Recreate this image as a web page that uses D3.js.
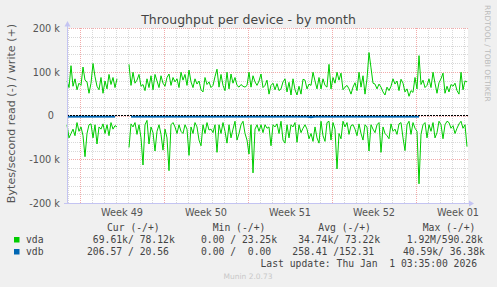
<!DOCTYPE html>
<html>
<head>
<meta charset="utf-8">
<script src="https://cdn.jsdelivr.net/npm/d3@7"></script>
<style>
  body { margin: 0; background: #f0f0f0; }
  svg { display: block; }
</style>
</head>
<body>
<div id="viz-container"></div>
<script>
//vda throughput in k bytes/second, one sample every 4 hours, null = no data
let vdaWrite = [80, 65, 115, 68, 85, 60, 75, 70, 112, 82, 78, 52, 75, 120, 90, 68, 60, 88, 52, 80, 62, 95, 72, 88, 65, 85,
    null, null, null, null, null,
    118, 70, 100, 75, 82, 95, 68, 72, 58, 85, 65, 92, 60, 95, 80, 65, 92, 75, 68, 88,
    96, 70, 88, 78, 85, 65, 100, 82, 95, 70, 105, 78, 65, 85, 73, 80, 60, 55, 88, 72, 78, 65, 70, 90, 107,
    66, 95, 70, 58, 100, 62, 96, 75, 88, 70, 66, 72, 68, 66, 70, 100, 66, 92, 78, 70, 80, 96, 65, 70, 82,
    50, 70, 75, 60, 74, 58, 62, 78, 85, 55, 77, 48, 85, 60, 48, 68, 50, 84, 82, 62, 73, 70, 100, 80, 62,
    88, 62, 85, 70, 66, 118, 62, 88, 75, 100, 82, 98, 60, 66, 70, 62, 50, 66, 76, 58, 100, 66, 92, 50, 85,
    145, 110, 75, 73, 62, 73, 66, 55, 48, 66, 58, 68, 85, 73, 80, 58, 84, 75, 55, 62, 45, 58, 54, 88, 62,
    138, 72, 82, 65, 70, 85, 65, 100, 75, 52, 76, 85, 98, 52, 68, 55, 72, 68, 75, 58, 50, 100, 60, 80, 78];

let vdaRead = [20, 50, 40, 30, 45, 15, 35, 25, 45, 93, 40, 20, 18, 50, 20, 64, 25, 30, 18, 40, 20, 45, 15, 30, 22, 25,
    null, null, null, null, null,
    72, 18, 25, 15, 42, 20, 50, 112, 20, 10, 64, 25, 38, 80, 35, 20, 42, 78, 30, 50,
    125, 20, 15, 25, 40, 20, 35, 40, 20, 30, 90, 25, 40, 15, 25, 55, 68, 20, 40, 15, 32, 30, 38, 20, 83,
    20, 40, 15, 35, 62, 20, 50, 30, 12, 55, 40, 20, 12, 40, 55, 87, 20, 130, 30, 20, 35, 20, 38, 20, 28,
    25, 68, 20, 25, 18, 40, 12, 55, 62, 20, 50, 20, 25, 15, 60, 20, 38, 28, 20, 30, 52, 40, 58, 25, 50,
    62, 12, 45, 58, 15, 12, 55, 15, 30, 121, 40, 52, 12, 25, 15, 42, 22, 20, 30, 45, 18, 40, 55, 20, 25,
    80, 20, 30, 38, 20, 15, 83, 25, 40, 45, 52, 18, 35, 30, 42, 18, 15, 50, 79, 20, 12, 42, 15, 28, 35,
    155, 42, 20, 15, 50, 20, 35, 15, 50, 38, 12, 20, 52, 20, 12, 15, 28, 22, 40, 28, 18, 12, 28, 20, 70];

//vdb throughput in bytes/second, one sample every 8 hours
let vdbWrite = [150, 120, 180, 140, 160, 210, 130, 150, 170, 140, 190, 160, 150,
    null, null, null,
    160, 140, 150, 130, 170, 150, 200, 140, 160, 150, 120, 180, 150, 140, 160, 130, 170, 150, 140, 160,
    190, 150, 130, 140, 160, 150, 170, 140, 150, 160, 130, 150, 180, 140, 160, 150, 140, 170, 150, 130,
    160, 150, 140, 150, 170, 160, 140, 150, 130, 160, 150, 180, 140, 150, 160, 140, 150, 170, 130, 150,
    160, 140, 150, 160, 140, 170, 150, 130, 160, 150, 140, 160, 21];

let vdbRead = [260, 230, 300, 210, 280, 250, 240, 310, 220, 270, 260, 290, 240,
    null, null, null,
    250, 280, 230, 260, 300, 240, 270, 250, 220, 290, 260, 240, 280, 250, 230, 270, 260, 300, 240, 250,
    280, 230, 260, 250, 270, 240, 290, 260, 230, 250, 280, 260, 240, 270, 250, 230, 260, 290, 250, 240,
    270, 260, 250, 230, 280, 2200, 260, 240, 250, 270, 230, 260, 280, 250, 240, 260, 290, 250, 230, 260,
    250, 270, 240, 260, 250, 280, 230, 260, 250, 240, 270, 250, 207];

//axis labels
let yTicks = [-200000, -100000, 0, 100000, 200000];
let yTickLabels = ["-200 k", "-100 k", "0  ", "100 k", "200 k"];
let weekStarts = [Date.UTC(2025, 11, 1), Date.UTC(2025, 11, 8), Date.UTC(2025, 11, 15), Date.UTC(2025, 11, 22), Date.UTC(2025, 11, 29)];
let weekLabels = ["Week 49", "Week 50", "Week 51", "Week 52", "Week 01"];

//legend rows
let legendNames = ["vda", "vdb"];
let legendColors = ["#00cc00", "#0066b3"];
let legendCur = [" 69.61k/ 78.12k", "206.57 / 20.56"];
let legendMin = ["  0.00 / 23.25k", "  0.00 /  0.00"];
let legendAvg = [" 34.74k/ 73.22k", "258.41 /152.31"];
let legendMax = ["1.92M/590.28k", "40.59k/ 36.38k"];

let start = Date.UTC(2025, 10, 29, 22);
let hour = 3600 * 1000;
let end = start + 800 * hour;

let viz = d3.select("#viz-container")
    .append("svg")
        .attr("width", 497)
        .attr("height", 287)
        .style("background-color", "#f0f0f0");

let x = d3.scaleUtc().domain([new Date(start), new Date(end)]).range([67, 467]);
let y = d3.scaleLinear().domain([-200000, 200000]).range([203.5, 28.5]);

//plot background
viz.append("rect")
    .attr("x", 67).attr("y", 28).attr("width", 401).attr("height", 176)
    .attr("fill", "white");

//minor grid
let days = d3.utcDay.range(new Date(start), new Date(end + hour));
viz.selectAll(".vminor").data(days).enter().append("line")
    .attr("x1", d => Math.round(x(d)) + 0.5).attr("x2", d => Math.round(x(d)) + 0.5)
    .attr("y1", 28).attr("y2", 203.5)
    .attr("stroke", "#d8d8d8").attr("stroke-dasharray", "1,1");

let hMinor = d3.range(-200000, 200001, 20000);
viz.selectAll(".hminor").data(hMinor).enter().append("line")
    .attr("x1", 67).attr("x2", 468)
    .attr("y1", d => Math.floor(y(d)) + 0.5).attr("y2", d => Math.floor(y(d)) + 0.5)
    .attr("stroke", "#d8d8d8").attr("stroke-dasharray", "1,1");

//major grid
viz.selectAll(".vmajor").data(weekStarts).enter().append("line")
    .attr("x1", d => Math.round(x(d)) + 0.5).attr("x2", d => Math.round(x(d)) + 0.5)
    .attr("y1", 28).attr("y2", 203.5)
    .attr("stroke", "#f2aaaa").attr("stroke-dasharray", "1,1");

viz.selectAll(".hmajor").data(yTicks).enter().append("line")
    .attr("x1", 67).attr("x2", 468)
    .attr("y1", d => Math.floor(y(d)) + 0.5).attr("y2", d => Math.floor(y(d)) + 0.5)
    .attr("stroke", "#f2aaaa").attr("stroke-dasharray", "1,1");

//series
function points(vals, stepHours, sign, mult) {
    return vals.map((v, i) => ({ t: new Date(start + i * stepHours * hour), v: v === null ? null : sign * v * mult }));
}

let line = d3.line()
    .defined(d => d.v !== null)
    .x(d => x(d.t))
    .y(d => y(d.v));

let series = [
    { data: points(vdaWrite, 4, 1, 1000), color: "#00cc00", w: 1, dy: 0 },
    { data: points(vdaRead, 4, -1, 1000), color: "#00cc00", w: 1, dy: 0 },
    { data: points(vdbWrite, 8, 1, 1), color: "#0066b3", w: 1.4, dy: 0.6 },
    { data: points(vdbRead, 8, -1, 1), color: "#0066b3", w: 1.4, dy: 0.6 }
];

viz.selectAll(".series").data(series).enter().append("path")
    .attr("d", d => line(d.data))
    .attr("transform", d => "translate(0," + d.dy + ")")
    .attr("fill", "none")
    .attr("stroke", d => d.color)
    .attr("stroke-width", d => d.w);

//zero rule
viz.append("line")
    .attr("x1", 67).attr("x2", 468).attr("y1", 115.5).attr("y2", 115.5)
    .attr("stroke", "#000").attr("stroke-dasharray", "2,1");

//axes with arrows
let axisColor = "#c4c4f2";
viz.append("line").attr("x1", 67.5).attr("x2", 67.5).attr("y1", 204).attr("y2", 24)
    .attr("stroke", axisColor);
viz.append("path").attr("d", "M64.5,26.5 L70.5,26.5 L67.5,21 Z").attr("fill", axisColor);
viz.append("line").attr("x1", 64).attr("x2", 470).attr("y1", 203.5).attr("y2", 203.5)
    .attr("stroke", axisColor);
viz.append("path").attr("d", "M469,200.5 L469,206.5 L474,203.5 Z").attr("fill", axisColor);

//tick labels
viz.selectAll(".ylab").data(yTicks).enter().append("text")
    .attr("x", 60).attr("y", d => y(d) + 3.4)
    .attr("text-anchor", "end")
    .style("white-space", "pre")
    .attr("font-family", "DejaVu Sans").attr("font-size", 9.72)
    .attr("fill", "#555")
    .text((d, i) => yTickLabels[i]);

viz.selectAll(".xlab").data(weekStarts).enter().append("text")
    .attr("x", d => x(d + 3.5 * 24 * hour))
    .attr("y", 216)
    .attr("text-anchor", "middle")
    .attr("font-family", "DejaVu Sans").attr("font-size", 9.72)
    .attr("fill", "#555")
    .text((d, i) => weekLabels[i]);

//title and vertical label
viz.append("text")
    .attr("x", 248.5).attr("y", 24)
    .attr("text-anchor", "middle")
    .attr("font-family", "DejaVu Sans").attr("font-size", 12.5)
    .attr("fill", "#444")
    .text("Throughput per device - by month");

viz.append("text")
    .attr("transform", "translate(14.8,113.5) rotate(-90)")
    .attr("text-anchor", "middle")
    .attr("font-family", "DejaVu Sans").attr("font-size", 11.1)
    .attr("fill", "#555")
    .text("Bytes/second read (-) / write (+)");

viz.append("text")
    .attr("transform", "translate(485,5) rotate(90)")
    .attr("font-family", "DejaVu Sans").attr("font-size", 7.5)
    .attr("fill", "#bbb")
    .text("RRDTOOL / TOBI OETIKER");

//legend
let mono = "DejaVu Sans Mono";
let legendFont = 9.72;
let headers = [["Cur (-/+)", 107], ["Min (-/+)", 212.7], ["Avg (-/+)", 318.3], ["Max (-/+)", 422.7]];
viz.selectAll(".lhead").data(headers).enter().append("text")
    .attr("x", d => d[1]).attr("y", 231)
    .attr("font-family", mono).attr("font-size", legendFont)
    .attr("fill", "#444")
    .style("white-space", "pre")
    .text(d => d[0]);

let rowY = [243.3, 255.3];
legendNames.forEach(function(name, i) {
    viz.append("rect")
        .attr("x", 14).attr("y", rowY[i] - 6.3).attr("width", 5.5).attr("height", 5.5)
        .attr("fill", legendColors[i]);
    let cells = [name, legendCur[i], legendMin[i], legendAvg[i], legendMax[i]];
    let xs = [26, 87, 189.3, 292.3, i === 0 ? 406.7 : 403];
    cells.forEach(function(c, j) {
        viz.append("text")
            .attr("x", xs[j]).attr("y", rowY[i])
            .attr("font-family", mono).attr("font-size", legendFont)
            .attr("fill", "#444")
            .style("white-space", "pre")
            .text(c);
    });
});

viz.append("text")
    .attr("x", 477).attr("y", 267.3)
    .attr("text-anchor", "end")
    .attr("font-family", mono).attr("font-size", legendFont)
    .attr("fill", "#444")
    .style("white-space", "pre")
    .text("Last update: Thu Jan  1 03:35:00 2026");

viz.append("text")
    .attr("x", 248).attr("y", 279)
    .attr("text-anchor", "middle")
    .attr("font-family", "DejaVu Sans").attr("font-size", 7.5)
    .attr("fill", "#c8c8c8")
    .text("Munin 2.0.73");
</script>
</body>
</html>
